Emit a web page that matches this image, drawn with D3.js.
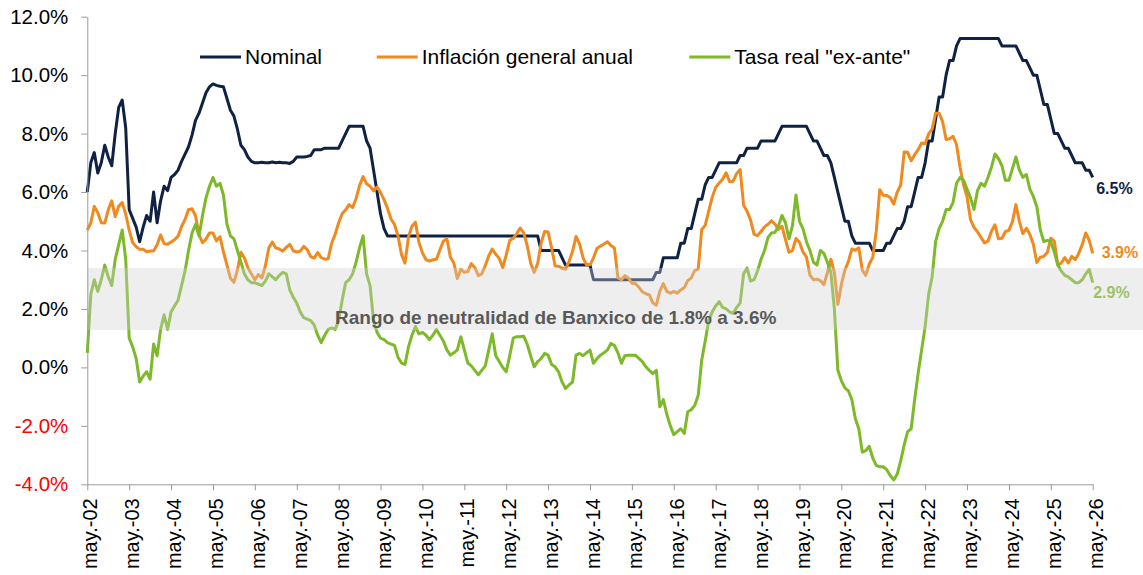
<!DOCTYPE html>
<html>
<head>
<meta charset="utf-8">
<script src="https://cdn.jsdelivr.net/npm/d3@7"></script>
<style>
  body { margin: 0; background: #fff; }
  svg { display: block; font-family: Arial, "Liberation Sans", sans-serif; }
</style>
</head>
<body>
<svg width="1143" height="575"></svg>
<script>
// monthly data, may-02 .. may-26 (one row = may .. abr)
const tickLabels = ["may.-02","may.-03","may.-04","may.-05","may.-06","may.-07","may.-08","may.-09",
  "may.-10","may.-11","may.-12","may.-13","may.-14","may.-15","may.-16","may.-17","may.-18",
  "may.-19","may.-20","may.-21","may.-22","may.-23","may.-24","may.-25","may.-26"];
const yTicks = [-4, -2, 0, 2, 4, 6, 8, 10, 12];
const seriesNames = ["Nominal", "Inflación general anual", "Tasa real \"ex-ante\""];
const neutralBand = [1.28, 3.4];
const bandText = "Rango de neutralidad de Banxico de 1.8% a 3.6%";

const nominal = [
  6.0, 7.0, 7.35, 6.65, 7.0, 7.6, 7.2, 6.9, 8.0, 8.9, 9.15, 8.2,
  5.4, 5.1, 4.8, 4.3, 4.8, 5.2, 5.0, 6.0, 4.95, 5.7, 6.2, 6.05,
  6.5, 6.6, 6.75, 7.05, 7.3, 7.55, 7.95, 8.45, 8.7, 9.05, 9.4, 9.6,
  9.7, 9.65, 9.62, 9.6, 9.2, 8.8, 8.6, 8.15, 7.6, 7.45, 7.2, 7.05,
  7.0, 7.0, 7.02, 7.0, 7.0, 7.03, 7.0, 7.02, 7.0, 7.0, 6.98, 7.05,
  7.2, 7.2, 7.2, 7.22, 7.25, 7.45, 7.45, 7.45, 7.5, 7.5, 7.5, 7.5,
  7.5, 7.75, 8.0, 8.25, 8.25, 8.25, 8.25, 8.25, 7.75, 7.5, 6.75, 6.0,
  5.25, 4.75, 4.5, 4.5, 4.5, 4.5, 4.5, 4.5, 4.5, 4.5, 4.5, 4.5,
  4.5, 4.5, 4.5, 4.5, 4.5, 4.5, 4.5, 4.5, 4.5, 4.5, 4.5, 4.5,
  4.5, 4.5, 4.5, 4.5, 4.5, 4.5, 4.5, 4.5, 4.5, 4.5, 4.5, 4.5,
  4.5, 4.5, 4.5, 4.5, 4.5, 4.5, 4.5, 4.5, 4.5, 4.5, 4.0, 4.0,
  4.0, 4.0, 4.0, 4.0, 3.75, 3.5, 3.5, 3.5, 3.5, 3.5, 3.5, 3.5,
  3.5, 3.0, 3.0, 3.0, 3.0, 3.0, 3.0, 3.0, 3.0, 3.0, 3.0, 3.0,
  3.0, 3.0, 3.0, 3.0, 3.0, 3.0, 3.0, 3.25, 3.25, 3.75, 3.75, 3.75,
  3.75, 3.75, 4.25, 4.25, 4.75, 4.75, 5.25, 5.75, 5.75, 6.25, 6.5, 6.5,
  6.75, 7.0, 7.0, 7.0, 7.0, 7.0, 7.0, 7.25, 7.25, 7.5, 7.5, 7.5,
  7.5, 7.75, 7.75, 7.75, 7.75, 7.75, 8.0, 8.25, 8.25, 8.25, 8.25, 8.25,
  8.25, 8.25, 8.25, 8.0, 7.75, 7.75, 7.5, 7.25, 7.25, 7.0, 6.5, 6.0,
  5.5, 5.0, 5.0, 4.5, 4.25, 4.25, 4.25, 4.25, 4.25, 4.0, 4.0, 4.0,
  4.0, 4.25, 4.25, 4.5, 4.75, 4.75, 5.0, 5.5, 5.5, 6.0, 6.5, 6.5,
  7.0, 7.75, 7.75, 8.5, 9.25, 9.25, 10.0, 10.5, 10.5, 11.0, 11.25, 11.25,
  11.25, 11.25, 11.25, 11.25, 11.25, 11.25, 11.25, 11.25, 11.25, 11.25, 11.0, 11.0,
  11.0, 11.0, 11.0, 10.75, 10.5, 10.5, 10.25, 10.0, 10.0, 9.5, 9.0, 9.0,
  8.5, 8.0, 8.0, 7.75, 7.5, 7.5, 7.25, 7.0, 7.0, 7.0, 6.75, 6.75, 6.5
];

const inflation = [
  4.70, 4.94, 5.51, 5.29, 4.95, 4.94, 5.39, 5.70, 5.16, 5.52, 5.64, 5.25,
  4.70, 4.27, 4.13, 4.04, 4.04, 3.96, 3.98, 3.98, 4.20, 4.53, 4.23, 4.21,
  4.29, 4.37, 4.49, 4.82, 5.06, 5.40, 5.43, 5.19, 4.54, 4.27, 4.39, 4.60,
  4.60, 4.33, 4.47, 3.95, 3.51, 3.05, 2.91, 3.33, 3.94, 3.75, 3.41, 3.20,
  3.00, 3.18, 3.06, 3.47, 4.09, 4.29, 4.09, 4.05, 3.98, 4.11, 4.21, 3.99,
  3.95, 3.98, 4.14, 4.03, 3.79, 3.74, 3.93, 3.76, 3.70, 3.72, 4.25, 4.55,
  4.95, 5.26, 5.39, 5.57, 5.47, 5.78, 6.23, 6.53, 6.28, 6.20, 6.04, 6.17,
  5.98, 5.74, 5.44, 5.08, 4.89, 4.50, 3.86, 3.57, 4.46, 4.83, 4.97, 4.27,
  3.92, 3.69, 3.64, 3.68, 3.70, 4.02, 4.32, 4.40, 3.78, 3.57, 3.04, 3.36,
  3.25, 3.28, 3.55, 3.42, 3.14, 3.20, 3.48, 3.82, 4.05, 3.87, 3.73, 3.41,
  3.85, 4.34, 4.42, 4.57, 4.77, 4.60, 4.18, 3.57, 3.25, 3.55, 4.25, 4.65,
  4.63, 4.09, 3.47, 3.46, 3.39, 3.36, 3.62, 3.97, 4.48, 4.23, 3.76, 3.50,
  3.51, 3.75, 4.07, 4.15, 4.22, 4.30, 4.17, 4.08, 3.07, 3.00, 3.14, 3.06,
  2.88, 2.87, 2.74, 2.59, 2.52, 2.48, 2.21, 2.13, 2.61, 2.87, 2.60, 2.54,
  2.60, 2.54, 2.65, 2.73, 2.97, 3.06, 3.31, 3.36, 4.72, 4.86, 5.35, 5.82,
  6.16, 6.31, 6.44, 6.66, 6.35, 6.37, 6.63, 6.77, 5.55, 5.34, 5.04, 4.55,
  4.51, 4.65, 4.81, 4.90, 5.02, 4.90, 4.72, 4.83, 4.37, 3.94, 4.00, 4.41,
  4.28, 3.95, 3.78, 3.16, 3.00, 3.02, 2.97, 2.83, 3.24, 3.70, 3.25, 2.15,
  2.84, 3.33, 3.62, 4.05, 4.01, 4.09, 3.33, 3.15, 3.54, 3.76, 4.67, 6.08,
  5.89, 5.88, 5.81, 5.59, 6.00, 6.24, 7.37, 7.36, 7.07, 7.28, 7.45, 7.68,
  7.65, 7.99, 8.15, 8.70, 8.70, 8.41, 7.80, 7.82, 7.91, 7.62, 6.85, 6.25,
  5.84, 5.06, 4.79, 4.64, 4.45, 4.26, 4.32, 4.66, 4.88, 4.40, 4.42, 4.65,
  4.69, 4.98, 5.57, 4.99, 4.58, 4.76, 4.55, 4.21, 3.59, 3.77, 3.80, 3.93,
  4.42, 4.32, 3.51, 3.57, 3.76, 3.57, 3.80, 3.69, 3.90, 4.20, 4.60, 4.35, 3.90
];

const realRate = [
  0.5, 2.5, 3.0, 2.6, 3.0, 3.5, 3.1, 2.8, 3.7, 4.2, 4.7, 3.7,
  1.0, 0.7, 0.3, -0.5, -0.3, -0.15, -0.4, 0.8, 0.4, 1.3, 1.8, 1.3,
  1.9, 2.1, 2.3, 2.8, 3.3, 4.0, 4.6, 4.9, 4.5, 5.2, 5.8, 6.2,
  6.5, 6.2, 6.3, 5.9, 4.9, 4.5, 4.4, 4.0, 3.6, 3.2, 3.0, 2.9,
  2.9, 2.85, 2.8, 2.95, 3.2, 3.1, 3.0, 3.15, 3.25, 3.2, 2.65, 2.4,
  2.2, 1.9, 1.7, 1.65, 1.6, 1.45, 1.1, 0.85, 1.1, 1.3, 1.35, 1.3,
  1.6, 2.3, 2.9, 3.0, 3.2, 3.6, 4.1, 4.5, 3.2, 2.8, 1.6, 1.2,
  1.0, 0.95, 0.85, 0.8, 0.75, 0.35, 0.15, 0.1, 0.7, 1.1, 1.4, 1.15,
  1.2, 1.1, 0.95, 1.1, 1.3, 1.1, 0.9, 0.6, 0.42, 0.5, 0.6, 1.05,
  0.6, 0.15, 0.05, -0.1, -0.25, -0.1, 0.05, 0.6, 1.15, 0.4, 0.2, 0.0,
  -0.15, 0.4, 1.0, 1.05, 1.05, 1.07, 0.8, 0.4, 0.02, 0.2, 0.3, 0.48,
  0.42, 0.1, 0.02, -0.15, -0.5, -0.72, -0.6, -0.5, 0.42, 0.48, 0.4, 0.5,
  0.59, 0.14, 0.3, 0.42, 0.5, 0.6, 0.82, 0.75, 0.5, 0.14, 0.4, 0.42,
  0.42, 0.42, 0.31, 0.2, 0.02, -0.1, -0.21, -0.1, -1.35, -1.1, -1.6, -2.0,
  -2.3, -2.2, -2.1, -2.26, -1.52, -1.45, -1.3, -0.95, 0.25, 0.9, 1.6, 1.9,
  2.1, 2.25, 2.05, 2.0, 1.9, 1.85, 2.05, 2.2, 3.2, 3.4, 2.95, 3.0,
  3.3, 3.7, 4.0, 4.45, 4.6, 4.62, 4.85, 5.2, 4.95, 4.4, 4.85, 5.9,
  5.0, 4.75, 4.3, 4.0, 3.6, 3.5, 4.0, 3.9, 3.6, 3.25, 2.0, -0.1,
  -0.45, -0.7, -0.8, -1.1, -1.75, -2.1, -2.9, -2.85, -2.7, -3.1, -3.35, -3.4,
  -3.4, -3.5, -3.7, -3.85, -3.65, -3.2, -2.65, -2.2, -2.1, -1.1, -0.2, 0.6,
  1.4, 2.5, 3.1, 4.3, 4.75, 5.0, 5.4, 5.4, 5.65, 6.3, 6.5, 6.4,
  6.1, 5.8, 5.4, 6.05, 6.3, 6.2, 6.5, 6.85, 7.3, 7.15, 6.9, 6.4,
  6.4, 6.8, 7.2, 6.75, 6.5, 6.6, 6.1, 5.85, 5.5, 4.7, 4.3, 4.35,
  4.3, 3.95, 3.5, 3.3, 3.15, 3.1, 3.0, 2.9, 2.9, 3.0, 3.2, 3.35, 2.9
];

const colors = ["#0f2244", "#f0891e", "#7db928"];
const series = [nominal, inflation, realRate];

const svg = d3.select("svg");
const x = d3.scaleLinear().domain([0, nominal.length - 1]).range([87.3, 1092.7]);
const y = d3.scaleLinear().domain([-4, 12]).range([484.3, 16.7]);

const line = d3.line().x((d, i) => x(i)).y(d => y(d));

series.forEach((s, k) => {
  svg.append("path")
    .datum(s)
    .attr("d", line)
    .attr("fill", "none")
    .attr("stroke", colors[k])
    .attr("stroke-width", 3)
    .attr("stroke-linejoin", "round");
});

// last value labels
const endPos = [{ dx: 3.5, dy: 16.5 }, { dx: 9, dy: 5 }, { dx: 0.5, dy: 15.7 }];
series.forEach((s, k) => {
  const last = s[s.length - 1];
  svg.append("text")
    .attr("x", x(s.length - 1) + endPos[k].dx)
    .attr("y", y(last) + endPos[k].dy)
    .attr("fill", colors[k])
    .attr("font-size", 16)
    .attr("font-weight", "bold")
    .text(last.toFixed(1) + "%");
});

// neutrality band, drawn over the lines
svg.append("rect")
  .attr("x", x(0))
  .attr("width", 1143 - x(0))
  .attr("y", y(neutralBand[1]))
  .attr("height", y(neutralBand[0]) - y(neutralBand[1]))
  .attr("fill", "#d1d1d1")
  .attr("fill-opacity", 0.37);

svg.append("text")
  .attr("x", 335)
  .attr("y", 324)
  .attr("fill", "#595959")
  .attr("font-size", 19)
  .attr("font-weight", "bold")
  .text(bandText);

// axes
const yAxis = svg.append("g")
  .attr("transform", `translate(${x(0)},0)`)
  .call(d3.axisLeft(y).tickValues(yTicks).tickSize(6).tickSizeOuter(0)
    .tickFormat(d => d.toFixed(1) + "%"));
yAxis.select(".domain").attr("stroke", "#9a9a9a");
yAxis.selectAll(".tick line").attr("stroke", "#9a9a9a");
yAxis.selectAll(".tick text")
  .attr("x", -19)
  .attr("font-size", 20.5)
  .attr("font-family", null)
  .attr("fill", d => d < 0 ? "#ff0000" : "#000");

const xAxis = svg.append("g")
  .attr("transform", `translate(0,${y(-4)})`)
  .call(d3.axisBottom(x).tickValues(d3.range(0, nominal.length, 12)).tickSize(6).tickSizeOuter(0)
    .tickFormat((d, i) => tickLabels[i]));
xAxis.select(".domain").attr("stroke", "#9a9a9a");
xAxis.selectAll(".tick line").attr("stroke", "#9a9a9a");
xAxis.selectAll(".tick text")
  .attr("font-size", 20)
  .attr("font-family", null)
  .attr("fill", "#000")
  .attr("text-anchor", "end")
  .attr("dy", null)
  .attr("y", null)
  .attr("transform", "translate(9.6,14) rotate(-90)");

// legend
const legendX = [200, 376.7, 689.3];
series.forEach((s, k) => {
  const g = svg.append("g").attr("transform", `translate(${legendX[k]},57)`);
  g.append("line").attr("x1", 0).attr("x2", 41).attr("stroke", colors[k]).attr("stroke-width", 3);
  g.append("text").attr("x", 45).attr("y", 6.8).attr("font-size", 21).attr("fill", "#000")
    .text(seriesNames[k]);
});
</script>
</body>
</html>
